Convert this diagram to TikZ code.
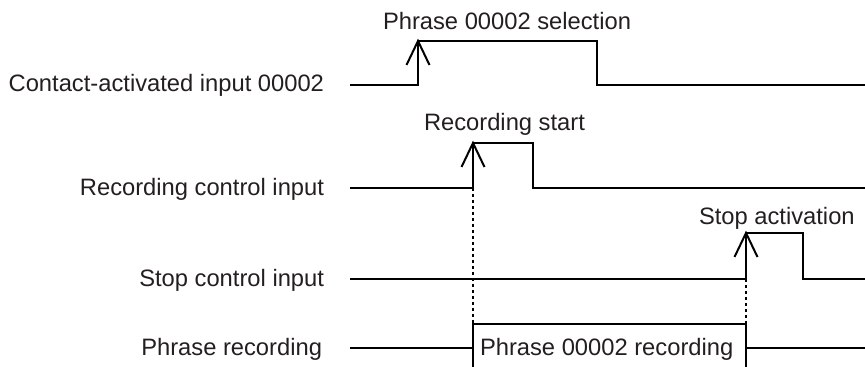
\documentclass[tikz,border=0pt]{standalone}
\usepackage{fontspec}
\setmainfont{Liberation Sans}
\definecolor{inkgray}{RGB}{35,31,32}

\tikzset{every picture/.style={line width=1.5pt}}
\tikzset{
  wave/.style={line width=1.5pt, line join=miter},
  guide/.style={line width=1.5pt, dash pattern=on 2.4pt off 2.1pt},
  lbl/.style={inner sep=0pt, text=inkgray, font=\fontsize{17.8}{21}\selectfont}
}

\begin{document}
\begin{tikzpicture}[x=0.75pt,y=0.75pt,yscale=-1,xscale=1]
\useasboundingbox (0,0) rectangle (865,367);

%Shape: Contact-activated input 00002
\draw [wave] (350,85) -- (418,85) -- (418,41) -- (597,41) -- (597,85) -- (865,85) ;
%Shape: Recording control input
\draw [wave] (350,188) -- (473,188) coordinate (recup) -- (473,143) -- (533,143) -- (533,188) -- (865,188) ;
%Shape: Stop control input
\draw [wave] (350,279) -- (746,279) coordinate (stopup) -- (746,233) -- (803,233) -- (803,279) -- (865,279) ;
%Shape: Phrase recording
\draw [wave] (350,348) -- (473,348) ;
\draw [wave] (746,348) -- (865,348) ;
\draw [wave] (473,367) -- (473,324) coordinate (boxl) -- (746,324) coordinate (boxr) -- (746,367) ;

%Straight Lines: rising edge marks
\foreach \x/\y in {418/41,473/143,746/233}
  \draw [wave] (\x-11.5,\y+24) -- (\x,\y) -- (\x+11.5,\y+24) ;

%Straight Lines: dotted guides
\draw [guide] (recup) -- (boxl) ;
\draw [guide] (stopup) -- (boxr) ;

% Text Node
\node (contact) [lbl, anchor=base east] at (325,92) {Contact-activated input 00002};
% Text Node
\node (reccontrol) [lbl, anchor=base east] at (325,196) {Recording control input};
% Text Node
\node (stopcontrol) [lbl, anchor=base east] at (325,287) {Stop control input};
% Text Node
\node (phraserec) [lbl, anchor=base east] at (323,356) {Phrase recording};
% Text Node
\node (selection) [lbl, anchor=base west] at (382,30) {Phrase 00002 selection};
% Text Node
\node (recstart) [lbl, anchor=base west] at (423,131) {Recording start};
% Text Node
\node (stopact) [lbl, anchor=base west] at (698,225) {Stop activation};
% Text Node
\node (recording) [lbl, anchor=base west] at (479,355) {Phrase 00002 recording};

\end{tikzpicture}
\end{document}
